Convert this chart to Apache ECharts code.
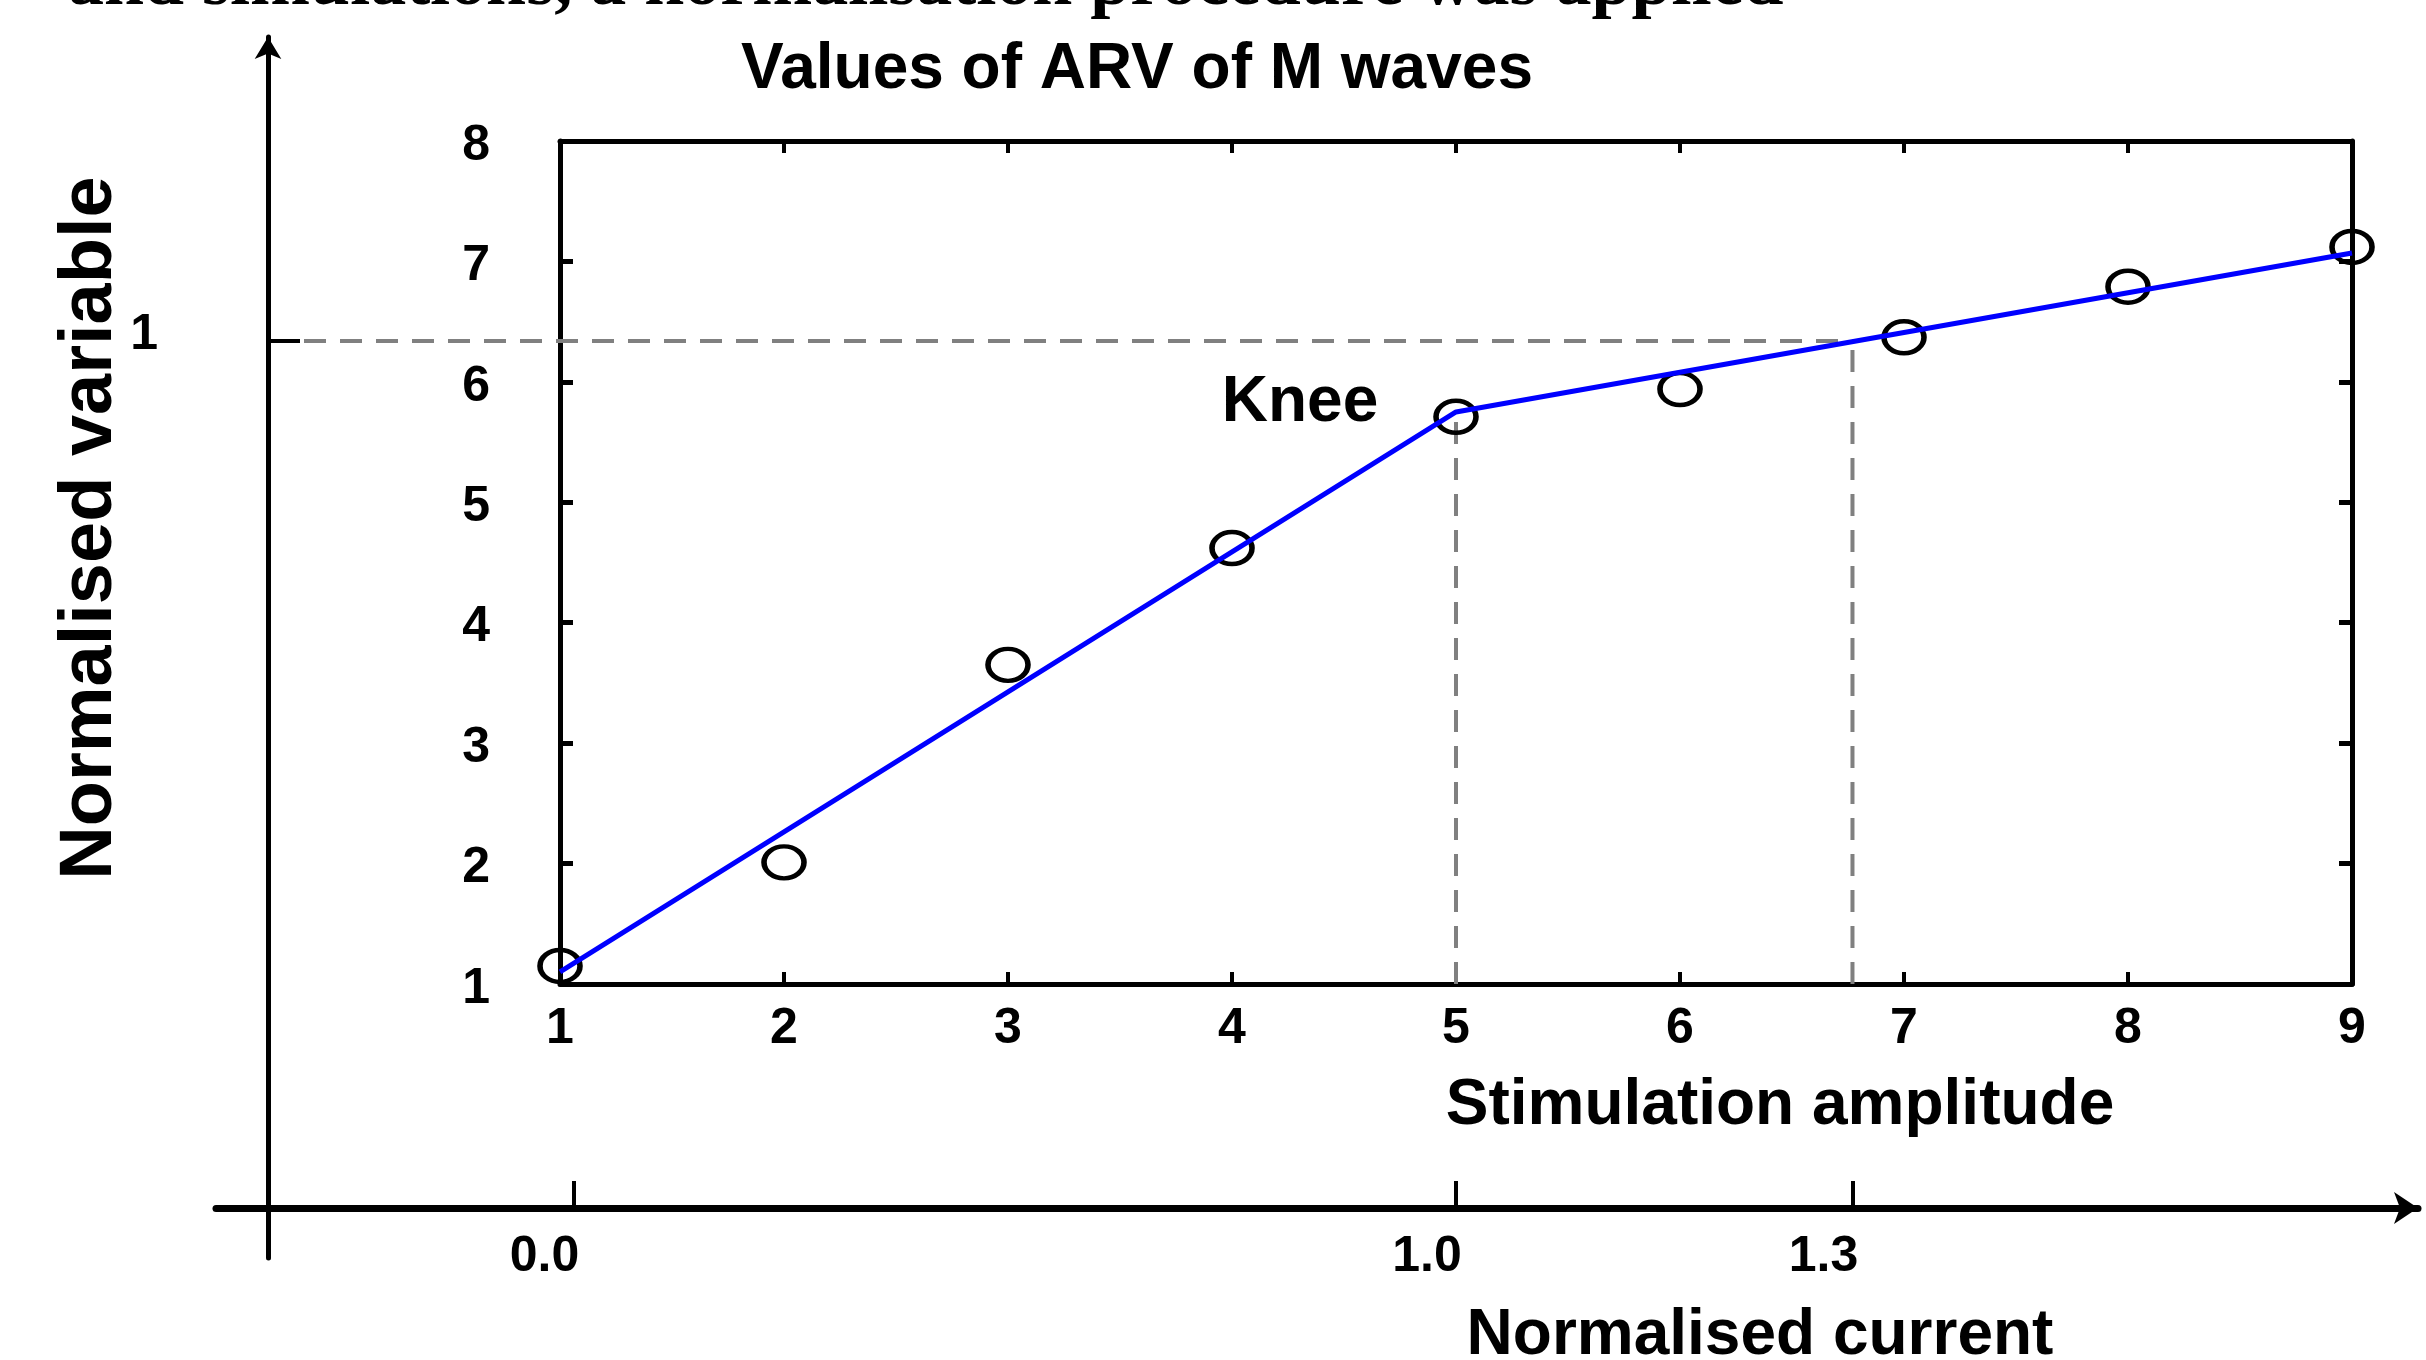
<!DOCTYPE html>
<html>
<head>
<meta charset="utf-8">
<title>Values of ARV of M waves</title>
<script src="https://cdn.jsdelivr.net/npm/echarts@6/dist/echarts.min.js"></script>
<style>
  html, body { margin: 0; padding: 0; background: #fff; }
  #chart { width: 2426px; height: 1360px; }
</style>
</head>
<body>
<div id="chart"></div>
<script>
// measured points (stimulation amplitude -> ARV of M wave)
var stimAmp = [1, 2, 3, 4, 5, 6, 7, 8, 9];
var arvValues = [1.15, 2.01, 3.65, 4.62, 5.71, 5.94, 6.37, 6.79, 7.12];

// two-segment fit, knee at 5
var fitX = [1, 5, 9];
var fitY = [1.10, 5.75, 7.07];

// normalised current axis: tick positions (in stimulation units) and labels
var currentTickPos = [1.06, 5, 6.77];
var currentTickLabels = ['0.0', '1.0', '1.3'];

// normalised variable axis
var normVarTickPos = [6.34];
var normVarTickLabels = ['1'];

var kneeX = fitX[1];
var kneeY = fitY[1];
var threshX = currentTickPos[2];
var threshY = normVarTickPos[0];

// layout of the inner plot box (px)
var box = { left: 560, right: 2352, top: 141, bottom: 984 };
var xRange = [1, 9];
var yRange = [1, 8];

// helpers to express the outer frame in the inner plot units
function sAt(px) {
    return xRange[0] + (px - box.left) * (xRange[1] - xRange[0]) / (box.right - box.left);
}
function vAt(py) {
    return yRange[0] + (box.bottom - py) * (yRange[1] - yRange[0]) / (box.bottom - box.top);
}
function pickLabel(pos, labels, wrap) {
    return function (v) {
        var best = 0;
        for (var i = 1; i < pos.length; i++) {
            if (Math.abs(pos[i] - v) < Math.abs(pos[best] - v)) best = i;
        }
        return wrap ? '{t|' + labels[best] + '}' : labels[best];
    };
}

var FONT = 'Liberation Sans, Arial, sans-serif';
var tickFont = { fontSize: 50, fontWeight: 'bold', color: '#000', fontFamily: FONT };
var frameLine = { color: '#000', width: 5 };
var dash = { color: '#808080', width: 4, type: [22, 14] };

var outerA = { left: 216, right: 8, top: 1100, bottom: 152 };   // horizontal arrow
var outerB = { left: 268, right: 0, top: 37, bottom: 102 };     // vertical arrow

var chart = echarts.init(document.getElementById('chart'), null, { renderer: 'canvas' });

var option = {
    animation: false,
    backgroundColor: '#fff',
    grid: [
        { left: box.left, top: box.top, right: 2426 - box.right, bottom: 1360 - box.bottom },
        { left: outerA.left, right: outerA.right, top: outerA.top, bottom: outerA.bottom },
        { left: outerB.left, right: outerB.right, top: outerB.top, bottom: outerB.bottom }
    ],
    xAxis: [
        {
            gridIndex: 0, type: 'value', min: xRange[0], max: xRange[1], interval: 1,
            axisLine: { lineStyle: frameLine },
            axisTick: { inside: true, length: 12, lineStyle: { color: '#000', width: 4 } },
            axisLabel: Object.assign({ margin: 20 }, tickFont),
            splitLine: { show: false }
        },
        {
            gridIndex: 0, type: 'value', position: 'top', min: xRange[0], max: xRange[1], interval: 1,
            axisLine: { lineStyle: frameLine },
            axisTick: { inside: true, length: 12, lineStyle: { color: '#000', width: 4 } },
            axisLabel: { show: false },
            splitLine: { show: false }
        },
        {
            gridIndex: 1, type: 'value',
            min: sAt(outerA.left), max: sAt(2426 - outerA.right),
            axisLine: { onZero: false, symbol: ['none', 'arrow'], symbolSize: [24, 24], lineStyle: { color: '#000', width: 7 } },
            axisTick: { customValues: currentTickPos, inside: true, length: 27, lineStyle: { color: '#000', width: 4 } },
            axisLabel: Object.assign({
                customValues: currentTickPos,
                formatter: pickLabel(currentTickPos, currentTickLabels),
                margin: 24, padding: [0, 58, 0, 0]
            }, tickFont),
            splitLine: { show: false }
        },
        {
            gridIndex: 2, type: 'value', show: false,
            min: sAt(outerB.left), max: sAt(2426 - outerB.right)
        }
    ],
    yAxis: [
        {
            gridIndex: 0, type: 'value', min: yRange[0], max: yRange[1], interval: 1,
            axisLine: { lineStyle: frameLine },
            axisTick: { inside: true, length: 13, lineStyle: { color: '#000', width: 5 } },
            axisLabel: Object.assign({
                margin: 70,
                formatter: '{t|{value}}',
                rich: { t: Object.assign({ padding: [10, 0, 0, 0] }, tickFont) }
            }, tickFont),
            splitLine: { show: false }
        },
        {
            gridIndex: 0, type: 'value', position: 'right', min: yRange[0], max: yRange[1], interval: 1,
            axisLine: { lineStyle: frameLine },
            axisTick: { inside: true, length: 13, lineStyle: { color: '#000', width: 5 } },
            axisLabel: { show: false },
            splitLine: { show: false }
        },
        { gridIndex: 1, type: 'value', show: false, min: 0, max: 1 },
        {
            gridIndex: 2, type: 'value', z: 10,
            min: vAt(1360 - outerB.bottom), max: vAt(outerB.top),
            axisLine: { onZero: false, symbol: ['none', 'arrow'], symbolSize: [20, 22], lineStyle: { color: '#000', width: 5 } },
            axisTick: { customValues: normVarTickPos, inside: true, length: 32, lineStyle: { color: '#000', width: 4 } },
            axisLabel: Object.assign({
                customValues: normVarTickPos,
                formatter: pickLabel(normVarTickPos, normVarTickLabels, true),
                rich: { t: Object.assign({ padding: [0, 0, 12, 0] }, tickFont) },
                margin: 110
            }, tickFont),
            splitLine: { show: false }
        }
    ],
    series: [
        {
            // dashed reference from the outer "1" tick to the 1.3 point
            type: 'line', xAxisIndex: 3, yAxisIndex: 3, z: 1,
            symbol: 'none', silent: true, clip: false,
            lineStyle: dash,
            data: [[sAt(outerB.left), threshY], [threshX, threshY]]
        },
        {
            type: 'line', xAxisIndex: 0, yAxisIndex: 0, z: 1,
            symbol: 'none', silent: true,
            lineStyle: dash,
            data: [[kneeX, yRange[0]], [kneeX, kneeY]]
        },
        {
            type: 'line', xAxisIndex: 0, yAxisIndex: 0, z: 1,
            symbol: 'none', silent: true,
            lineStyle: dash,
            data: [[threshX, yRange[0]], [threshX, threshY]]
        },
        {
            type: 'scatter', xAxisIndex: 0, yAxisIndex: 0, z: 3, clip: false,
            symbol: 'circle', symbolSize: [40, 32],
            itemStyle: { color: 'rgba(0,0,0,0)', borderColor: '#000', borderWidth: 5, opacity: 1 },
            data: stimAmp.map(function (x, i) { return [x, arvValues[i]]; })
        },
        {
            type: 'line', xAxisIndex: 0, yAxisIndex: 0, z: 5,
            symbol: 'none', clip: false,
            lineStyle: { color: '#0000ff', width: 5 },
            data: fitX.map(function (x, i) { return [x, fitY[i]]; })
        }
    ],
    graphic: [
        {
            // caption from the page above, cut by the crop
            type: 'text', left: 68, top: -51,
            style: { text: 'and simulations, a normalisation procedure was applied',
                fontSize: 72, fontWeight: 'bold', fontFamily: 'Liberation Serif, Times New Roman, serif', fill: '#000' }
        },
        {
            type: 'text', x: 1137, y: 70,
            style: { text: 'Values of ARV of M waves', fontSize: 64, fontWeight: 'bold', fontFamily: FONT,
                fill: '#000', align: 'center', verticalAlign: 'middle' }
        },
        {
            type: 'text', x: 1300, y: 403,
            style: { text: 'Knee', fontSize: 64, fontWeight: 'bold', fontFamily: FONT,
                fill: '#000', align: 'center', verticalAlign: 'middle' }
        },
        {
            type: 'text', x: 1780, y: 1106,
            style: { text: 'Stimulation amplitude', fontSize: 64, fontWeight: 'bold', fontFamily: FONT,
                fill: '#000', align: 'center', verticalAlign: 'middle' }
        },
        {
            type: 'text', x: 1760, y: 1336,
            style: { text: 'Normalised current', fontSize: 64, fontWeight: 'bold', fontFamily: FONT,
                fill: '#000', align: 'center', verticalAlign: 'middle' }
        },
        {
            type: 'text', x: 91, y: 528, rotation: Math.PI / 2,
            style: { text: 'Normalised variable', fontSize: 74, fontWeight: 'bold', fontFamily: FONT,
                fill: '#000', align: 'center', verticalAlign: 'middle' }
        }
    ]
};

chart.setOption(option);
</script>
</body>
</html>
